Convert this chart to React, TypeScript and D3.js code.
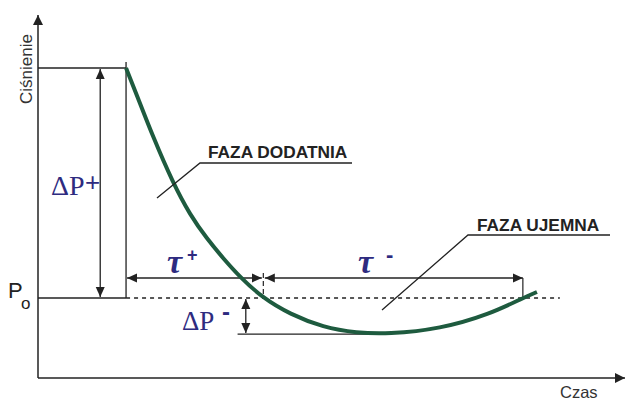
import React from 'react';
import { scaleLinear, line, curveBasis } from 'd3';

const width = 625;
const height = 401;

// time (arbitrary units) and pressure (relative to Po, peak = 1)
const timeValues = [15, 16.9, 19.6, 23, 25.9, 28.8, 31.5, 34.4, 38.3, 42.9, 48.6, 54.3, 59.6, 68.5, 77, 82.6, 85];
const pressureValues = [1, 0.878, 0.7, 0.5, 0.361, 0.257, 0.174, 0.091, 0, -0.07, -0.128, -0.152, -0.157, -0.135, -0.07, 0, 0.026];

// key moments / levels
const tStart = 15;      // arrival of the wave
const tZero = 38.3;     // end of positive phase
const tEnd = 82.6;      // end of negative phase
const tMin = 59.6;
const pPeak = 1;
const pMin = -0.157;
const axisTime = [0, 100];
const axisPressure = [-0.348, 1.23];

const ink = '#222';
const blue = '#2e2b80';
const green = '#1e5b3f';
const sans = 'Liberation Sans, Arial, sans-serif';
const serif = 'Liberation Serif, Times New Roman, serif';

const x = scaleLinear().domain([0, 100]).range([38, 625]);
const y = scaleLinear().domain([0, 1]).range([298, 68]);

const App = () => {
  const pts: [number, number][] = timeValues.map((t, i) => [t, pressureValues[i]]);
  const curve = line<[number, number]>()
    .x(d => x(d[0]))
    .y(d => y(d[1]))
    .curve(curveBasis)(pts) as string;

  const x0 = x(axisTime[0]);
  const y0 = y(axisPressure[0]);
  const dpPlusX = x(10.6);
  const dpMinusX = x(35.4);
  const tauY = y(0.087);

  return (
    <svg width={width} height={height} style={{ position: 'absolute', left: 0, top: 0, background: '#fff' }}>
      <defs>
        <marker id="ah" viewBox="0 0 10 10" refX="10" refY="5" markerWidth="10" markerHeight="10" markerUnits="userSpaceOnUse" orient="auto-start-reverse">
          <path d="M0,0.5 L10,5 L0,9.5 Z" fill={ink} />
        </marker>
        <marker id="axh" viewBox="0 0 10 10" refX="10" refY="5" markerWidth="14" markerHeight="10" markerUnits="userSpaceOnUse" orient="auto">
          <path d="M0,0 L10,5 L0,10 Z" fill={ink} />
        </marker>
      </defs>

      {/* axes */}
      <line x1={x0} y1={y0} x2={x0} y2={y(axisPressure[1])} stroke={ink} strokeWidth={1.5} markerEnd="url(#axh)" />
      <line x1={x0} y1={y0} x2={x(axisTime[1])} y2={y0} stroke={ink} strokeWidth={1.5} markerEnd="url(#axh)" />

      {/* reference lines */}
      <line x1={x0} y1={y(pPeak)} x2={x(tStart)} y2={y(pPeak)} stroke={ink} strokeWidth={1.3} />
      <line x1={x0} y1={y(0)} x2={x(tStart)} y2={y(0)} stroke={ink} strokeWidth={1.3} />
      <line x1={x(tStart)} y1={y(pPeak) - 6} x2={x(tStart)} y2={y(0)} stroke={ink} strokeWidth={1.3} />
      <line x1={x(tStart)} y1={y(0)} x2={x(88.9)} y2={y(0)} stroke={ink} strokeWidth={1.3} strokeDasharray="4 4" />
      <line x1={x(34)} y1={y(pMin)} x2={x(tMin)} y2={y(pMin)} stroke={ink} strokeWidth={1.3} />

      {/* delta P+ */}
      <line x1={dpPlusX} y1={y(pPeak) + 1} x2={dpPlusX} y2={y(0) - 1} stroke={ink} strokeWidth={1.3} markerStart="url(#ah)" markerEnd="url(#ah)" />
      {/* delta P- */}
      <line x1={dpMinusX} y1={y(0) + 1} x2={dpMinusX} y2={y(pMin) - 1} stroke={ink} strokeWidth={1.3} markerStart="url(#ah)" markerEnd="url(#ah)" />

      {/* tau+ and tau- */}
      <line x1={x(tStart) + 1} y1={tauY} x2={x(tZero) - 1} y2={tauY} stroke={ink} strokeWidth={1.3} markerStart="url(#ah)" markerEnd="url(#ah)" />
      <line x1={x(tZero) + 2} y1={tauY} x2={x(tEnd)} y2={tauY} stroke={ink} strokeWidth={1.3} markerStart="url(#ah)" markerEnd="url(#ah)" />
      <line x1={x(tZero) + 0.5} y1={tauY - 5} x2={x(tZero) + 0.5} y2={y(0)} stroke={ink} strokeWidth={1.2} strokeDasharray="5 3" />
      <line x1={x(tEnd)} y1={tauY} x2={x(tEnd)} y2={y(0)} stroke={ink} strokeWidth={1.2} />

      {/* pressure curve */}
      <path d={curve} fill="none" stroke={green} strokeWidth={4} strokeLinecap="butt" />

      {/* leaders */}
      <polyline points="157,198 200,163 352,163" fill="none" stroke={ink} strokeWidth={1.3} />
      <polyline points="382,310 468,235 610,235" fill="none" stroke={ink} strokeWidth={1.3} />

      <text x={208} y={158} fontFamily={sans} fontWeight="bold" fontSize={17.3} fill={ink}>FAZA DODATNIA</text>
      <text x={477} y={231} fontFamily={sans} fontWeight="bold" fontSize={17.3} fill={ink}>FAZA UJEMNA</text>

      {/* axis titles */}
      <text transform="translate(32,104) rotate(-90)" fontFamily={sans} fontSize={17} fill="#333">Ciśnienie</text>
      <text x={560} y={398} fontFamily={sans} fontSize={16.5} fill="#333">Czas</text>

      {/* Po */}
      <text x={8} y={298} fontFamily={sans} fontSize={22} fill={ink}>P</text>
      <text x={21} y={309} fontFamily={sans} fontSize={17} fill={ink}>o</text>

      {/* symbols */}
      <text x={51} y={195} fontFamily={serif} fontSize={28} fill={blue}>ΔP</text>
      <text x={85} y={191} fontFamily={sans} fontSize={26} fill={blue}>+</text>

      <text x={182} y={330} fontFamily={serif} fontSize={27} fill={blue}>ΔP</text>
      <text x={222} y={320} fontFamily={sans} fontWeight="bold" fontSize={24} fill={blue}>-</text>

      <text x={167} y={273} fontFamily={serif} fontStyle="italic" fontWeight="bold" fontSize={34} fill={blue}>τ</text>
      <text x={187} y={261} fontFamily={sans} fontWeight="bold" fontSize={18} fill={blue}>+</text>

      <text x={358} y={273} fontFamily={serif} fontStyle="italic" fontWeight="bold" fontSize={34} fill={blue}>τ</text>
      <text x={386} y={262} fontFamily={sans} fontWeight="bold" fontSize={22} fill={blue}>-</text>
    </svg>
  );
};

export default App;
